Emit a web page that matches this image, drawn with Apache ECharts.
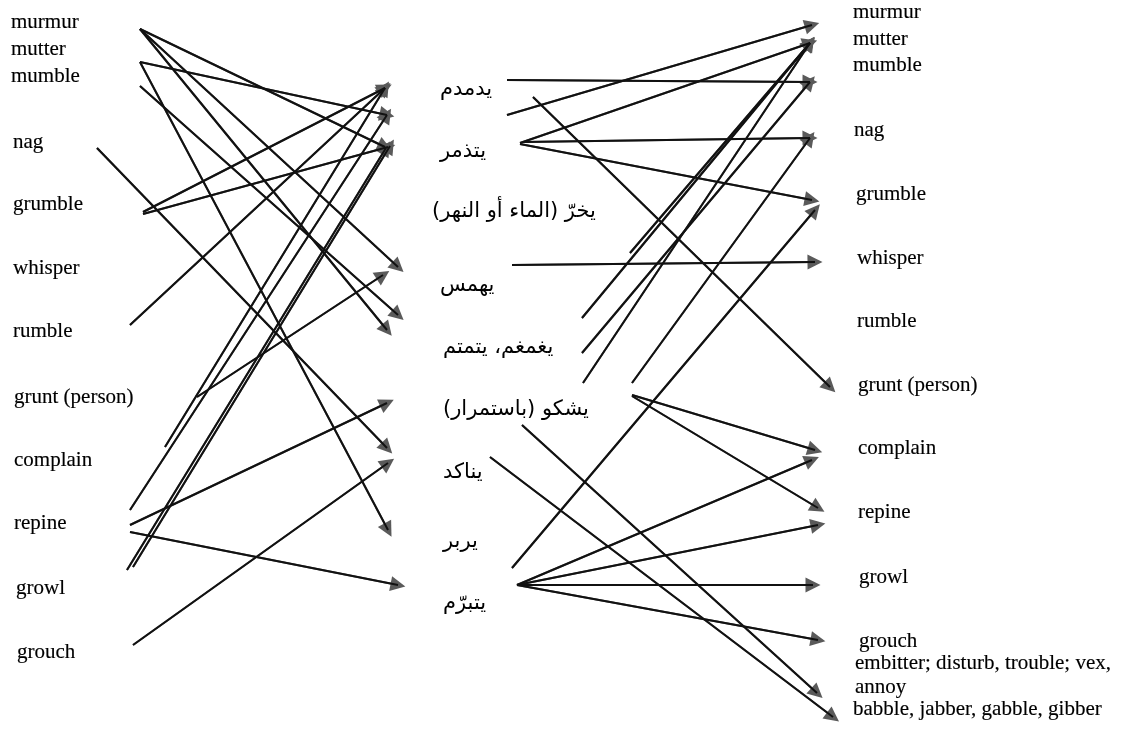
<!DOCTYPE html>
<html>
<head>
<meta charset="utf-8">
<script src="https://cdn.jsdelivr.net/npm/echarts@6/dist/echarts.min.js"></script>
<style>
html,body{margin:0;padding:0;background:#fff;}
#chart{width:1134px;height:734px;}
</style>
</head>
<body>
<div id="chart"></div>
<script>
// ---- data ----
const leftWords = ['murmur','mutter','mumble','nag','grumble','whisper','rumble','grunt (person)','complain','repine','growl','grouch'];
const leftX = [11,11,11,13,13,13,13,14,14,14,16,17];
const leftY = [22,49,76,142,204,268,331,397,460,523,588,652];

const midWords = ['يدمدم','يتذمر','يخرّ (الماء أو النهر)','يهمس','يغمغم، يتمتم','يشكو (باستمرار)','يناكد','يربر','يتبرّم'];
const midX = [440,440,432,440,443,443,443,443,443];
const midY = [90,152,212,286,348,410,473,542,604];

const rightWords = ['murmur','mutter','mumble','nag','grumble','whisper','rumble','grunt (person)','complain','repine','growl','grouch','embitter; disturb, trouble; vex,','annoy','babble, jabber, gabble, gibber'];
const rightX = [853,853,853,854,856,857,857,858,858,858,859,859,855,855,853];
const rightY = [12,39,65,130,194,258,321,385,448,512,577,641,663,687,709];

// arrows: [fromX, fromY, toX, toY]
const leftArrows = [
  [140,29,385,147],
  [140,29,398,267],
  [140,29,387,330],
  [140,62,387,115],
  [140,62,388,530],
  [140,86,398,315],
  [97,148,387,448],
  [143,212,385,88],
  [143,214,388,147],
  [130,325,385,88],
  [197,397,383,275],
  [165,447,385,88],
  [130,510,387,115],
  [127,570,386,148],
  [133,567,390,146],
  [130,525,387,403],
  [130,532,398,585],
  [133,645,388,463]
];
const rightArrows = [
  [507,80,810,82],
  [507,115,812,25],
  [520,143,810,43],
  [523,142,810,138],
  [520,144,812,200],
  [533,97,830,387],
  [512,265,815,262],
  [630,253,810,43],
  [582,318,810,43],
  [582,353,810,82],
  [583,383,810,43],
  [632,383,810,138],
  [512,568,815,210],
  [632,395,815,450],
  [632,396,818,508],
  [517,585,812,460],
  [517,585,818,525],
  [517,585,813,585],
  [517,585,818,640],
  [490,457,833,717],
  [522,425,817,693]
];

// ---- chart ----
const RLM = '\u200F';
function textSeries(words, xs, ys, font, size, border) {
  return {
    type: 'scatter',
    symbolSize: 0,
    silent: true,
    data: words.map((w, i) => ({ value: [xs[i], ys[i]], name: w })),
    label: {
      show: true,
      position: 'right',
      distance: 0,
      formatter: p => p.name,
      color: '#000',
      opacity: 1,
      textBorderColor: '#000',
      textBorderWidth: border,
      fontFamily: font,
      fontSize: size
    },
    emphasis: { disabled: true },
    z: 5
  };
}
// heads: gray arrowheads drawn under the black shafts
function headSeries(arr) {
  return {
    type: 'lines',
    coordinateSystem: 'cartesian2d',
    silent: true,
    symbol: ['none', 'triangle'],
    symbolSize: 15,
    lineStyle: { color: '#5a5a5a', width: 2, opacity: 1 },
    data: arr.map(a => ({ coords: [[a[0], a[1]], [a[2], a[3]]] })),
    z: 2
  };
}
function shaftSeries(arr) {
  return {
    type: 'lines',
    coordinateSystem: 'cartesian2d',
    silent: true,
    symbol: ['none', 'none'],
    lineStyle: { color: '#111', width: 2, opacity: 1 },
    data: arr.map(a => ({ coords: [[a[0], a[1]], [a[2], a[3]]] })),
    z: 3
  };
}

const chart = echarts.init(document.getElementById('chart'), null, { renderer: 'canvas' });
chart.setOption({
  backgroundColor: '#ffffff',
  animation: false,
  grid: { left: 0, right: 0, top: 0, bottom: 0 },
  xAxis: { type: 'value', min: 0, max: 1134, show: false },
  yAxis: { type: 'value', min: 0, max: 734, inverse: true, show: false },
  series: [
    headSeries(leftArrows),
    headSeries(rightArrows),
    shaftSeries(leftArrows),
    shaftSeries(rightArrows),
    textSeries(leftWords, leftX, leftY, "'Liberation Serif', serif", 21, 0.15),
    textSeries(midWords.map(w => RLM + w + RLM), midX, midY, "'DejaVu Sans', sans-serif", 21, 0),
    textSeries(rightWords, rightX, rightY, "'Liberation Serif', serif", 21, 0.15)
  ]
});
</script>
</body>
</html>
